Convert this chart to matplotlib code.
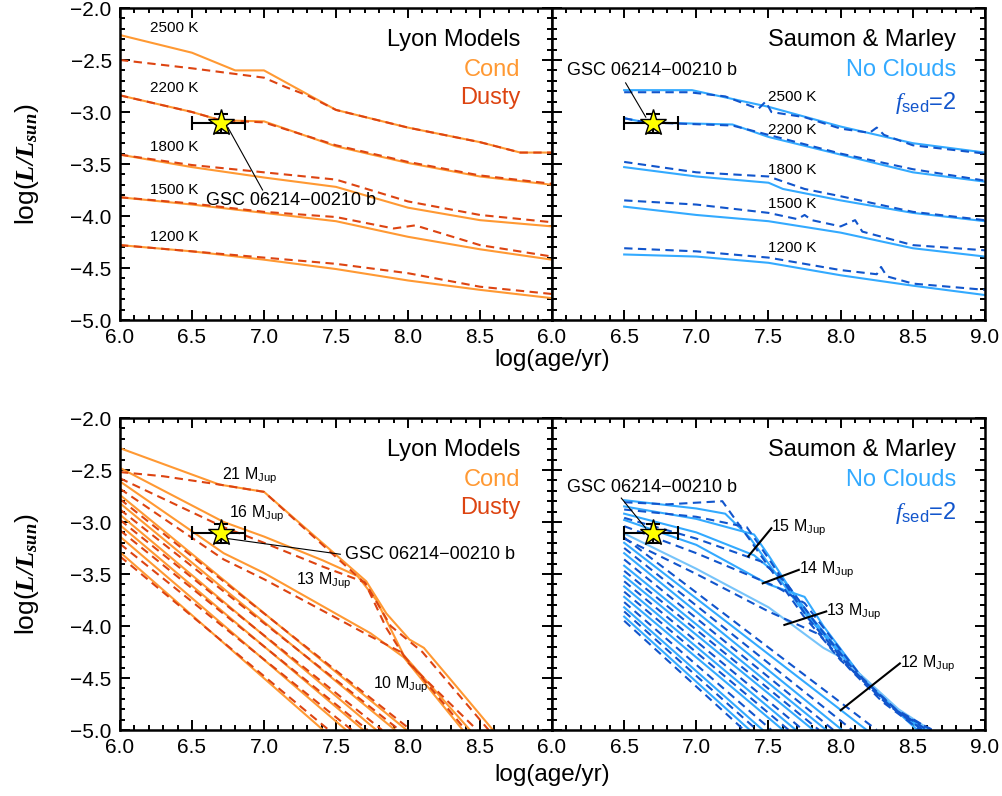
import matplotlib
matplotlib.use("Agg")
import matplotlib.pyplot as plt
from matplotlib.ticker import MultipleLocator, FuncFormatter

plt.rcParams['font.family'] = ['Liberation Sans', 'DejaVu Sans']
plt.rcParams['mathtext.fontset'] = 'custom'
plt.rcParams['mathtext.rm'] = 'Liberation Sans'
plt.rcParams['mathtext.it'] = 'Liberation Serif:italic'
plt.rcParams['mathtext.bf'] = 'Liberation Serif:bold:italic'

# --- top row: isotherms ---
temp_labels = ["2500 K", "2200 K", "1800 K", "1500 K", "1200 K"]
lyon_label_y = [-2.19, -2.77, -3.34, -3.75, -4.20]
sm_label_y = [-2.86, -3.17, -3.56, -3.88, -4.31]

cond_iso_x = [
    [6.0, 6.5, 6.8, 7.0, 7.5, 8.0, 8.5, 8.78, 9.0],
    [6.0, 6.5, 6.7, 7.0, 7.5, 8.0, 8.5, 9.0],
    [6.0, 6.5, 7.0, 7.5, 8.0, 8.5, 9.0],
    [6.0, 6.5, 7.0, 7.5, 8.0, 8.5, 9.0],
    [6.0, 6.5, 7.0, 7.5, 8.0, 8.5, 9.0],
]
cond_iso_y = [
    [-2.26, -2.43, -2.60, -2.60, -2.98, -3.15, -3.29, -3.39, -3.39],
    [-2.84, -3.00, -3.08, -3.09, -3.33, -3.49, -3.62, -3.70],
    [-3.41, -3.53, -3.63, -3.72, -3.92, -4.04, -4.10],
    [-3.82, -3.89, -3.97, -4.05, -4.20, -4.32, -4.42],
    [-4.28, -4.34, -4.42, -4.51, -4.62, -4.71, -4.79],
]
dusty_iso_x = [
    [6.0, 6.5, 7.0, 7.15, 7.3, 7.5, 8.0, 8.5, 8.78, 9.0],
    [6.0, 6.5, 6.7, 7.0, 7.5, 8.0, 8.5, 9.0],
    [6.0, 6.5, 7.0, 7.5, 8.0, 8.5, 9.0],
    [6.0, 6.5, 7.0, 7.5, 7.9, 8.05, 8.5, 9.0],
    [6.0, 6.5, 7.0, 7.5, 8.0, 8.5, 9.0],
]
dusty_iso_y = [
    [-2.50, -2.58, -2.67, -2.76, -2.84, -2.98, -3.15, -3.29, -3.39, -3.39],
    [-2.84, -3.00, -3.08, -3.10, -3.32, -3.48, -3.61, -3.69],
    [-3.41, -3.51, -3.58, -3.65, -3.86, -3.99, -4.06],
    [-3.82, -3.88, -3.96, -4.01, -4.12, -4.09, -4.28, -4.39],
    [-4.28, -4.34, -4.40, -4.46, -4.55, -4.68, -4.75],
]

nc_iso_x = [
    [6.5, 6.97, 7.5, 8.0, 8.5, 9.0],
    [6.5, 6.65, 7.25, 7.5, 8.0, 8.5, 9.0],
    [6.5, 7.0, 7.5, 7.6, 8.0, 8.5, 9.0],
    [6.5, 7.0, 7.5, 8.0, 8.5, 9.0],
    [6.5, 7.0, 7.5, 8.0, 8.5, 9.0],
]
nc_iso_y = [
    [-2.79, -2.79, -2.95, -3.14, -3.30, -3.39],
    [-3.06, -3.10, -3.12, -3.24, -3.41, -3.58, -3.67],
    [-3.53, -3.62, -3.68, -3.74, -3.85, -3.97, -4.05],
    [-3.91, -3.99, -4.05, -4.16, -4.31, -4.39],
    [-4.37, -4.39, -4.45, -4.57, -4.67, -4.76],
]
f2_iso_x = [
    [6.5, 6.95, 7.2, 7.43, 7.48, 7.52, 7.75, 8.0, 8.2, 8.25, 8.3, 8.5, 9.0],
    [6.5, 6.65, 7.25, 7.5, 8.0, 8.5, 9.0],
    [6.5, 7.0, 7.5, 7.75, 8.0, 8.5, 9.0],
    [6.5, 7.0, 7.5, 7.7, 7.75, 7.8, 8.0, 8.1, 8.15, 8.5, 9.0],
    [6.5, 7.0, 7.5, 8.0, 8.25, 8.28, 8.32, 8.5, 9.0],
]
f2_iso_y = [
    [-2.81, -2.81, -2.85, -2.97, -2.90, -3.00, -3.05, -3.16, -3.20, -3.15, -3.22, -3.32, -3.40],
    [-3.06, -3.10, -3.13, -3.22, -3.40, -3.55, -3.66],
    [-3.48, -3.58, -3.62, -3.74, -3.81, -3.96, -4.04],
    [-3.85, -3.89, -3.97, -4.03, -3.99, -4.04, -4.10, -4.04, -4.15, -4.28, -4.33],
    [-4.31, -4.34, -4.40, -4.52, -4.56, -4.49, -4.58, -4.65, -4.71],
]

# --- bottom row: mass tracks ---
cond_trk_x = [
    [6.0, 6.69, 7.0, 7.71, 7.85, 8.01, 8.11, 8.36, 8.59],
    [6.0, 6.72, 7.0, 7.41, 7.65, 7.78, 7.97, 8.43],
    [6.0, 6.72, 7.0, 7.74, 7.97, 8.38],
    [6.0, 7.99], [6.0, 7.91], [6.0, 7.78], [6.0, 7.69], [6.0, 7.57], [6.0, 7.41],
]
cond_trk_y = [
    [-2.29, -2.64, -2.71, -3.57, -3.88, -4.13, -4.21, -4.62, -5.0],
    [-2.48, -3.00, -3.14, -3.37, -3.52, -3.75, -4.28, -5.0],
    [-2.61, -3.30, -3.49, -4.07, -4.30, -5.0],
    [-2.74, -5.0], [-2.82, -5.0], [-2.93, -5.0], [-3.03, -5.0], [-3.14, -5.0], [-3.29, -5.0],
]
dusty_trk_x = [
    [6.0, 6.3, 6.69, 7.0, 7.71, 7.88, 8.1, 8.56],
    [6.0, 6.72, 7.0, 7.41, 7.7, 7.85, 8.0, 8.48],
    [6.0, 6.72, 7.0, 7.74, 7.95, 8.4],
    [6.0, 8.02], [6.0, 7.94], [6.0, 7.82], [6.0, 7.72], [6.0, 7.61], [6.0, 7.45],
]
dusty_trk_y = [
    [-2.52, -2.56, -2.64, -2.71, -3.60, -4.00, -4.25, -5.0],
    [-2.58, -3.05, -3.20, -3.43, -3.58, -4.02, -4.35, -5.0],
    [-2.68, -3.36, -3.55, -4.10, -4.25, -5.0],
    [-2.78, -5.0], [-2.88, -5.0], [-2.98, -5.0], [-3.08, -5.0], [-3.21, -5.0], [-3.33, -5.0],
]
lyon_mass_labels = ["21", "16", "13", "10"]
lyon_mass_x = [6.71, 6.76, 7.22, 7.76]
lyon_mass_y = [-2.56, -2.92, -3.57, -4.57]

nc_trk_x = [
    [6.5, 7.0, 7.2, 7.37, 7.74, 8.06, 8.29, 8.53],
    [6.5, 7.0, 7.4, 7.5, 7.76, 8.08, 8.31, 8.56],
    [6.5, 7.0, 7.4, 7.6, 7.8, 8.1, 8.33, 8.58],
    [6.5, 7.0, 7.5, 7.75, 7.88, 8.13, 8.36, 8.6],
    [6.5, 8.18], [6.5, 8.01], [6.5, 7.90], [6.5, 7.81],
    [6.5, 7.69], [6.5, 7.60], [6.5, 7.46], [6.5, 7.37],
]
nc_trk_y = [
    [-2.79, -2.87, -2.92, -3.15, -3.86, -4.37, -4.69, -5.0],
    [-2.85, -2.97, -3.12, -3.32, -3.88, -4.40, -4.72, -5.0],
    [-2.92, -3.10, -3.32, -3.55, -3.92, -4.42, -4.74, -5.0],
    [-2.98, -3.22, -3.60, -3.72, -4.00, -4.46, -4.77, -5.0],
    [-3.20, -5.0], [-3.30, -5.0], [-3.42, -5.0], [-3.52, -5.0],
    [-3.62, -5.0], [-3.72, -5.0], [-3.82, -5.0], [-3.91, -5.0],
]
nc13_x = [6.5, 7.0, 7.5, 7.88, 8.0, 8.18, 8.4, 8.62]
nc13_y = [-3.11, -3.45, -3.82, -4.21, -4.30, -4.52, -4.80, -5.0]
f2_trk_x = [
    [6.5, 6.8, 7.18, 7.37, 7.74, 8.06, 8.29, 8.55],
    [6.5, 7.0, 7.35, 7.5, 7.77, 8.09, 8.32, 8.57],
    [6.5, 7.0, 7.45, 7.62, 7.82, 8.12, 8.35, 8.6],
    [6.5, 7.0, 7.55, 7.75, 7.9, 8.15, 8.38, 8.63],
    [6.5, 7.0, 7.5, 7.85, 8.0, 8.2, 8.42, 8.64],
    [6.5, 8.25], [6.5, 8.08], [6.5, 7.95], [6.5, 7.85], [6.5, 7.74],
    [6.5, 7.64], [6.5, 7.52], [6.5, 7.42], [6.5, 7.33],
]
f2_trk_y = [
    [-2.81, -2.83, -2.80, -3.17, -3.90, -4.41, -4.73, -5.0],
    [-2.88, -2.95, -3.05, -3.35, -3.92, -4.44, -4.75, -5.0],
    [-2.96, -3.16, -3.38, -3.58, -3.96, -4.47, -4.78, -5.0],
    [-3.04, -3.30, -3.62, -3.78, -4.05, -4.50, -4.80, -5.0],
    [-3.16, -3.50, -3.86, -4.08, -4.33, -4.57, -4.85, -5.0],
    [-3.15, -5.0], [-3.25, -5.0], [-3.36, -5.0], [-3.47, -5.0], [-3.57, -5.0],
    [-3.67, -5.0], [-3.77, -5.0], [-3.86, -5.0], [-3.95, -5.0],
]
sm_mass_labels = ["15", "14", "13", "12"]
sm_mass_text = [(7.52, -3.06), (7.71, -3.46), (7.90, -3.86), (8.41, -4.36)]
sm_mass_tip = [(7.36, -3.33), (7.46, -3.59), (7.61, -3.99), (8.00, -4.81)]

# object
obj_name = "GSC 06214\u221200210 b"
obj_age = 6.70
obj_age_err = [0.20, 0.17]
obj_lum = -3.11
obj_lum_err = 0.09

COND = '#FF9933'
DUSTY = '#DD4411'
NOCLD = '#33AAFF'
FSED = '#1155CC'
NC13 = '#77C4FA'


def fmt_tick(v, pos, hide_last=False):
    if hide_last and v > 8.99:
        return ''
    return f"{v:.1f}".replace('-', '\u2212')


def setup(ax, left):
    ax.set_xlim(6.0, 9.0)
    ax.set_ylim(-5.0, -2.0)
    ax.xaxis.set_major_locator(MultipleLocator(0.5))
    ax.xaxis.set_minor_locator(MultipleLocator(0.1))
    ax.yaxis.set_major_locator(MultipleLocator(0.5))
    ax.yaxis.set_minor_locator(MultipleLocator(0.1))
    ax.tick_params(which='both', direction='in', top=True, right=True, width=1.4)
    ax.tick_params(which='major', length=7, labelsize=15, pad=6)
    ax.tick_params(which='minor', length=3.5)
    ax.xaxis.set_major_formatter(FuncFormatter(lambda v, p: fmt_tick(v, p, left)))
    ax.yaxis.set_major_formatter(FuncFormatter(fmt_tick))
    if not left:
        ax.tick_params(labelleft=False)
    for s in ax.spines.values():
        s.set_linewidth(1.8)


def draw_object(ax, label_xy, tip_xy, ha='center'):
    ax.errorbar([obj_age], [obj_lum], xerr=[[obj_age_err[0]], [obj_age_err[1]]],
                yerr=[[obj_lum_err], [obj_lum_err]], fmt='none', ecolor='k',
                elinewidth=1.5, capsize=5, capthick=1.5, zorder=6)
    ax.plot([obj_age], [obj_lum], marker='*', ms=20, mfc='#FFFF00', mec='k', mew=1.0, zorder=7)
    ax.plot([tip_xy[0], tip_xy[2]], [tip_xy[1], tip_xy[3]], color='k', lw=0.8, zorder=6)
    ax.text(label_xy[0], label_xy[1], obj_name, ha=ha, va='center', fontsize=13, zorder=8)


def lines(ax, xs, ys, color, dashed):
    for x, y in zip(xs, ys):
        if dashed:
            ax.plot(x, y, color=color, lw=1.5, dashes=(4, 2.6))
        else:
            ax.plot(x, y, color=color, lw=1.5)


def lyon_legend(ax):
    ax.text(0.926, 0.897, "Lyon Models", transform=ax.transAxes, ha='right', va='center', fontsize=17)
    ax.text(0.926, 0.801, "Cond", transform=ax.transAxes, ha='right', va='center', fontsize=17, color=COND)
    ax.text(0.926, 0.710, "Dusty", transform=ax.transAxes, ha='right', va='center', fontsize=17, color=DUSTY)


def sm_legend(ax):
    ax.text(0.934, 0.897, "Saumon & Marley", transform=ax.transAxes, ha='right', va='center', fontsize=17)
    ax.text(0.934, 0.801, "No Clouds", transform=ax.transAxes, ha='right', va='center', fontsize=17, color=NOCLD)
    ax.text(0.934, 0.696, r"$\mathit{f}_{\rm sed}$=2", transform=ax.transAxes, ha='right', va='center',
            fontsize=17, color=FSED)


fig = plt.figure(figsize=(10.03, 7.96), dpi=100)
W, H = 1003.0, 796.0
ax_tl = fig.add_axes([120 / W, 1 - 320 / H, 432 / W, 312 / H])
ax_tr = fig.add_axes([552 / W, 1 - 320 / H, 433 / W, 312 / H])
ax_bl = fig.add_axes([120 / W, 1 - 730 / H, 432 / W, 312 / H])
ax_br = fig.add_axes([552 / W, 1 - 730 / H, 433 / W, 312 / H])

# top left: Lyon isotherms
lines(ax_tl, cond_iso_x, cond_iso_y, COND, False)
lines(ax_tl, dusty_iso_x, dusty_iso_y, DUSTY, True)
for t, y in zip(temp_labels, lyon_label_y):
    ax_tl.text(6.21, y, t, fontsize=11, va='center', ha='left')
lyon_legend(ax_tl)
draw_object(ax_tl, (7.19, -3.85), (6.75, -3.15, 6.99, -3.75))

# top right: Saumon & Marley isotherms
lines(ax_tr, nc_iso_x, nc_iso_y, NOCLD, False)
lines(ax_tr, f2_iso_x, f2_iso_y, FSED, True)
for t, y in zip(temp_labels, sm_label_y):
    ax_tr.text(7.5, y, t, fontsize=11, va='center', ha='left')
sm_legend(ax_tr)
draw_object(ax_tr, (6.69, -2.60), (6.51, -2.72, 6.65, -3.05))

# bottom left: Lyon mass tracks
lines(ax_bl, cond_trk_x, cond_trk_y, COND, False)
lines(ax_bl, dusty_trk_x, dusty_trk_y, DUSTY, True)
for m, x, y in zip(lyon_mass_labels, lyon_mass_x, lyon_mass_y):
    ax_bl.text(x, y, m + r" M$_{\rm Jup}$", fontsize=11.5, va='center', ha='left')
lyon_legend(ax_bl)
draw_object(ax_bl, (7.56, -3.31), (6.75, -3.16, 7.53, -3.31), ha='left')

# bottom right: Saumon & Marley mass tracks
lines(ax_br, nc_trk_x, nc_trk_y, NOCLD, False)
ax_br.plot(nc13_x, nc13_y, color=NC13, lw=1.5)
lines(ax_br, f2_trk_x, f2_trk_y, FSED, True)
for m, (tx, ty), (px, py) in zip(sm_mass_labels, sm_mass_text, sm_mass_tip):
    ax_br.plot([px, tx], [py, ty], color='k', lw=1.5, zorder=6)
    ax_br.text(tx, ty, m + r" M$_{\rm Jup}$", fontsize=11.5, va='center', ha='left', zorder=8)
sm_legend(ax_br)
draw_object(ax_br, (6.69, -2.67), (6.48, -2.77, 6.65, -3.06))

for ax, left in [(ax_tl, True), (ax_tr, False), (ax_bl, True), (ax_br, False)]:
    setup(ax, left)

for yc, xl in [(164, 360), (574, 775)]:
    fig.text(27 / W, 1 - yc / H, r"log($\mathbf{L/L_{sun}}$)", rotation=90, ha='center', va='center',
             fontsize=19)
    fig.text(552 / W, 1 - xl / H, "log(age/yr)", ha='center', va='center', fontsize=17.5)

fig.savefig("out.png", dpi=100)
